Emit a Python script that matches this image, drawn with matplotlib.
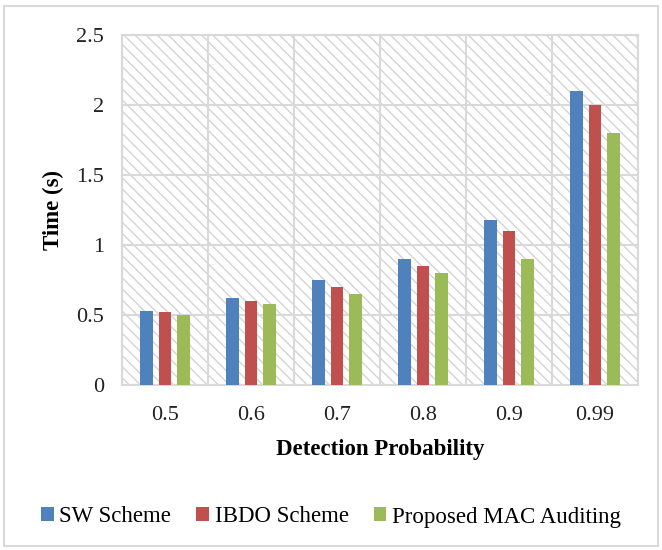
import numpy as np
import matplotlib
matplotlib.use("Agg")
import matplotlib.pyplot as plt
from matplotlib.patches import Rectangle

plt.rcParams['font.family'] = ['Liberation Serif', 'DejaVu Serif']
plt.rcParams['hatch.linewidth'] = 1.0
plt.rcParams['hatch.color'] = '#d4d4d4'

# detection probability vs. auditing time
categories = ['0.5', '0.6', '0.7', '0.8', '0.9', '0.99']
sw_scheme = [0.53, 0.62, 0.75, 0.90, 1.18, 2.10]
ibdo_scheme = [0.52, 0.60, 0.70, 0.85, 1.10, 2.00]
proposed_mac = [0.50, 0.58, 0.65, 0.80, 0.90, 1.80]
series_names = ['SW Scheme', 'IBDO Scheme', 'Proposed MAC Auditing']
colors = ['#4f81bd', '#c0504d', '#9bbb59']

fig = plt.figure(figsize=(6.62, 5.5), dpi=100)
ax = fig.add_axes([0.1843, 0.30, 0.7794, 0.6364])

# hatched plot background
ax.add_patch(Rectangle((0, 0), 1, 1, transform=ax.transAxes, facecolor='white',
                       edgecolor='#d4d4d4', hatch='\\\\\\', lw=0, zorder=0))

x = np.arange(len(categories))
step = 0.22
width = 0.15
for i, (vals, name, c) in enumerate(zip([sw_scheme, ibdo_scheme, proposed_mac], series_names, colors)):
    ax.bar(x + (i - 1) * step, vals, width, color=c, label=name, zorder=3)

ax.set_xlim(-0.5, len(categories) - 0.5)
ax.set_ylim(0, 2.5)
ax.set_yticks([0, 0.5, 1, 1.5, 2, 2.5])
ax.set_yticklabels(['0', '0.5', '1', '1.5', '2', '2.5'])
ax.set_xticks(x)
ax.set_xticklabels(categories)
ax.set_xticks(np.arange(-0.5, len(categories)), minor=True)
ax.tick_params(axis='both', which='both', length=0, labelsize=16, colors='#222222')
ax.tick_params(axis='x', pad=15)
ax.tick_params(axis='y', pad=13)
ax.grid(axis='y', color='#d9d9d9', lw=1.5, zorder=1)
ax.grid(axis='x', which='minor', color='#d9d9d9', lw=1.5, zorder=1)
ax.grid(axis='x', which='major', visible=False)
for s in ax.spines.values():
    s.set_color('#d9d9d9')
    s.set_linewidth(1.5)

ax.set_ylabel('Time (s)', fontsize=16.5, fontweight='bold', labelpad=9)
ax.set_xlabel('Detection Probability', fontsize=16.5, fontweight='bold', labelpad=10)

handles, labels = ax.get_legend_handles_labels()
fig.legend(handles, labels, loc='center', bbox_to_anchor=(0.5, 0.06), ncol=3,
           frameon=False, fontsize=16.5, handlelength=0.55, handleheight=0.55,
           handletextpad=0.25, columnspacing=1.1)

# outer chart border
fig.patches.append(Rectangle((0.006, 0.008), 0.988, 0.982, transform=fig.transFigure,
                             fill=False, edgecolor='#d9d9d9', lw=1.5))

fig.savefig('out.png', dpi=100)
